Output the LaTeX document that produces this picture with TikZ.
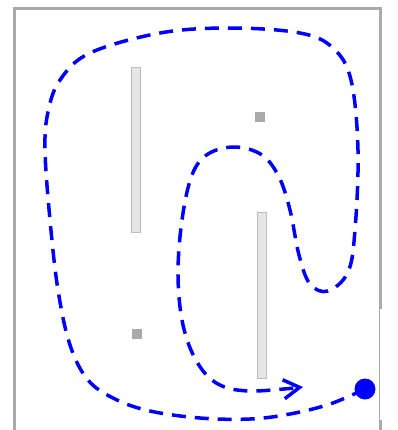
\documentclass[tikz,border=0pt]{standalone}
\usepackage{xcolor}
\usepackage{tikz}
\usetikzlibrary{arrows.meta}
\definecolor{wallgray}{HTML}{AAAAAA}
\definecolor{pillarfill}{HTML}{E6E6E6}
\definecolor{pillaredge}{HTML}{BDBDBD}

\begin{document}
\begin{tikzpicture}[
    x=1bp, y=-1bp,
    wall/.style={draw=wallgray, line width=3bp},
    doorline/.style={draw=wallgray, line width=1bp},
    pillar/.style={rectangle, draw=pillaredge, fill=pillarfill, line width=1bp, inner sep=0pt, minimum width=9bp},
    marker/.style={rectangle, fill=wallgray, minimum size=10bp, inner sep=0pt},
    robot/.style={circle, fill=blue, minimum size=21bp, inner sep=0pt},
    route/.style={draw=blue, line width=3.5bp, dash pattern=on 14bp off 9bp, -{Straight Barb[length=16bp, width=19bp, line width=3.5bp]}}
]
\useasboundingbox (0,0) rectangle (398,430);

% Walls
\draw[wall] (14.5,430) -- (14.5,8.5) -- (380.5,8.5) -- (380.5,309);
\draw[doorline] (379.5,309) -- (379.5,420);
\draw[wall] (380.5,420) -- (380.5,430);

% Pillars
\node[pillar, minimum height=165bp] (pillarL) at (135.5,149.5) {};
\node[pillar, minimum height=166bp] (pillarR) at (261.5,295) {};

% Markers
\node[marker] (markA) at (260,117) {};
\node[marker] (markB) at (137,334) {};

% Route
\coordinate (start) at (365,389);
\coordinate (goal) at (303,387);
\draw[route] plot[smooth, tension=0.6] coordinates {
    (start) (330,404) (290,414) (250,419) (200,418) (150,411) (115,399)
    (88,380) (70,345) (58,290) (50,220) (45,150) (48,112) (60,80)
    (90,53) (160,33) (230,28) (300,33) (333,48) (351,80) (358,150)
    (355,230) (348,272) (328,291) (310,284) (299,255) (290,210)
    (279,177) (262,155) (235,147) (208,154) (192,175) (182,220)
    (178,275) (183,325) (197,362) (218,384) (250,391) (goal)};

% Robot
\node[robot] (robot) at (start) {};

\end{tikzpicture}
\end{document}
